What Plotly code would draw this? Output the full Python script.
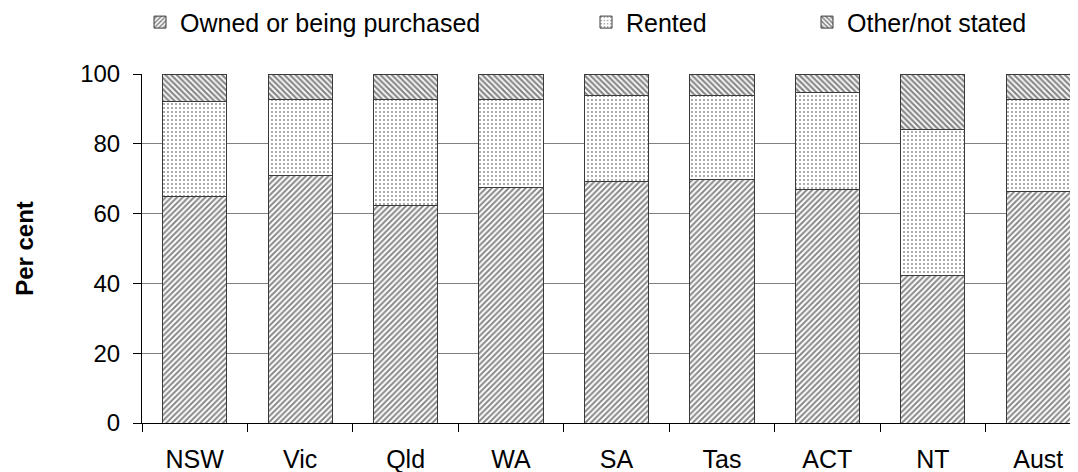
import plotly.graph_objects as go

categories = ["NSW", "Vic", "Qld", "WA", "SA", "Tas", "ACT", "NT", "Aust"]
owned = [64.8, 70.8, 62.3, 67.4, 69.1, 69.7, 67.0, 42.3, 66.3]
rented = [27.2, 21.8, 30.3, 25.2, 24.6, 24.2, 27.8, 41.7, 26.3]
other = [8.0, 7.4, 7.4, 7.4, 6.3, 6.1, 5.2, 16.0, 7.4]
y_ticks = [0, 20, 40, 60, 80, 100]

FONT = "Liberation Sans, Arial, sans-serif"
FS = 24
FL = 25
LINE = dict(color="#3a3a3a", width=1)

fig = go.Figure()
fig.add_trace(go.Bar(
    x=categories, y=owned, name="Owned or being purchased", legend="legend",
    marker=dict(color="white", line=LINE,
                pattern=dict(shape="/", fgcolor="#111111", bgcolor="white", size=4, solidity=0.5)),
))
fig.add_trace(go.Bar(
    x=categories, y=rented, name="Rented", legend="legend2",
    marker=dict(color="white", line=LINE,
                pattern=dict(shape=".", fgcolor="#222222", bgcolor="white", size=4, solidity=0.2)),
))
fig.add_trace(go.Bar(
    x=categories, y=other, name="Other/not stated", legend="legend3",
    marker=dict(color="white", line=LINE,
                pattern=dict(shape="\\", fgcolor="#111111", bgcolor="white", size=4, solidity=0.55)),
))

PW = 936
leg_common = dict(orientation="h", yanchor="middle", y=1.148, xanchor="left",
                  xref="paper", font=dict(family=FONT, size=FL, color="black"),
                  bgcolor="rgba(0,0,0,0)", itemwidth=30)

fig.update_layout(
    width=1078, height=472,
    barmode="stack", bargap=0.39,
    plot_bgcolor="white", paper_bgcolor="white",
    margin=dict(l=134, r=8, t=66, b=57, autoexpand=False),
    font=dict(family=FONT, size=FS, color="black"),
    showlegend=True,
    legend=dict(leg_common, x=(140 - 142) / PW),
    legend2=dict(leg_common, x=(586 - 142) / PW),
    legend3=dict(leg_common, x=(807 - 142) / PW),
    xaxis=dict(
        range=[-0.5, 8.377],
        showline=True, linecolor="black", linewidth=1,
        ticks="outside", ticklen=8, tickcolor="black", tickson="boundaries",
        showgrid=False, ticklabelstandoff=14, automargin=False,
        tickfont=dict(family=FONT, size=FL, color="black"),
    ),
    yaxis=dict(
        range=[0, 100], tickvals=y_ticks,
        showline=True, linecolor="black", linewidth=1,
        ticks="outside", ticklen=8, tickcolor="black",
        showgrid=True, gridcolor="#808080", gridwidth=1,
        zeroline=False, ticklabelstandoff=8, automargin=False,
        tickfont=dict(family=FONT, size=FS, color="black"),
        title=dict(text="<b>Per cent</b>", font=dict(family=FONT, size=FS, color="black"), standoff=39),
    ),
)

fig.write_html("out.html")
